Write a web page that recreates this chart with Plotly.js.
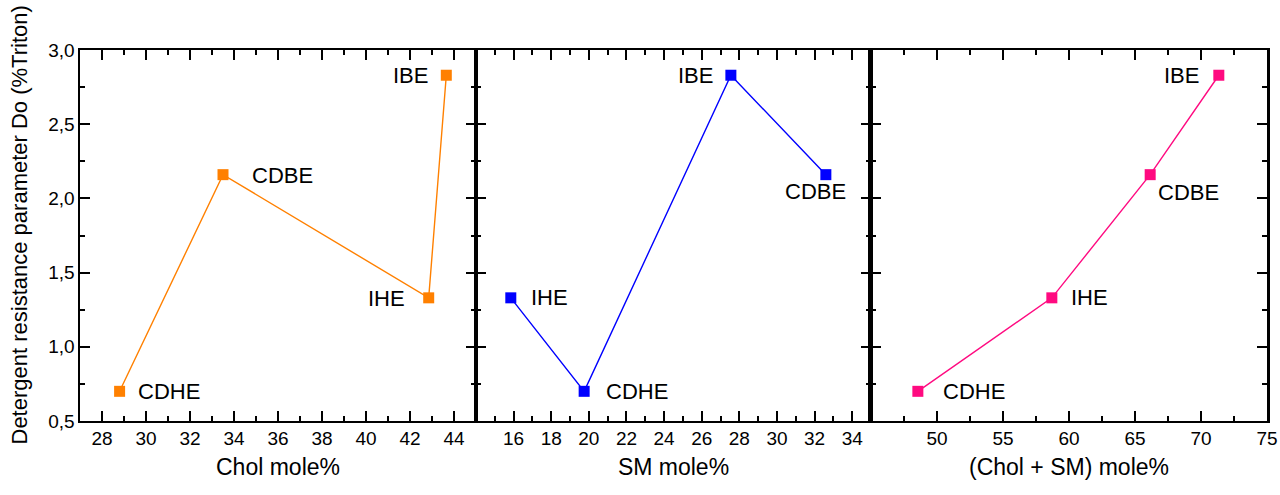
<!DOCTYPE html>
<html>
<head>
<meta charset="utf-8">
<script src="https://cdn.plot.ly/plotly-3.0.1.min.js"></script>
<style>html,body{margin:0;padding:0;background:#fff;}#chart{width:1280px;height:495px;}</style>
</head>
<body>
<div id="chart"></div>
<script>
// ---- data ----
const labels = ["CDHE", "CDBE", "IHE", "IBE"];
const doValues = [0.70, 2.16, 1.33, 2.83];
const cholMole = [28.8, 33.5, 42.85, 43.65];
const smMole = [19.75, 32.6, 15.85, 27.55];
const cholSmMole = [48.55, 66.15, 58.7, 71.35];
// plotting order of lines (sorted by x)
const orderChol = [0, 1, 2, 3];
const orderSM = [2, 0, 3, 1];
const orderSum = [0, 2, 1, 3];

const xTitles = ["Chol mole%", "SM mole%", "(Chol + SM) mole%"];
const yTitle = "Detergent resistance parameter Do (%Triton)";
const xTicks1 = [28, 30, 32, 34, 36, 38, 40, 42, 44];
const xTicks2 = [16, 18, 20, 22, 24, 26, 28, 30, 32, 34];
const xTicks3 = [50, 55, 60, 65, 70, 75];
const yTicks = [0.5, 1.0, 1.5, 2.0, 2.5, 3.0];

// ---- styles ----
const colors = ["#FF8000", "#0000FF", "#FF0A80"];
const FONT = "Liberation Sans, Arial, Helvetica, sans-serif";
const TICK = "#000";
// label placement per panel (same order as labels): [xanchor, xshift, yshift]
const labelPos = [
  [["left", 16, 0], ["left", 27, -1], ["right", -22, -1], ["right", -16, 0]],
  [["left", 20, 0], ["center", -10, -17], ["left", 18, 0], ["right", -16, 0]],
  [["left", 23, 0], ["left", 6, -18], ["left", 17, 0], ["right", -18, 0]]
];

const xs = [cholMole, smMole, cholSmMole];
const orders = [orderChol, orderSM, orderSum];
const axisSuffix = ["", "2", "3"];

const traces = xs.map((xv, p) => ({
  type: "scatter",
  mode: "lines+markers",
  x: orders[p].map(i => xv[i]),
  y: orders[p].map(i => doValues[i]),
  xaxis: "x" + axisSuffix[p],
  yaxis: "y" + axisSuffix[p],
  line: {color: colors[p], width: 1.4},
  marker: {symbol: "square", size: 11, color: colors[p]},
  hoverinfo: "skip",
  showlegend: false
}));

const annotations = [];
xs.forEach((xv, p) => {
  labels.forEach((lab, i) => {
    const pos = labelPos[p][i];
    annotations.push({
      x: xv[i], y: doValues[i],
      xref: "x" + axisSuffix[p], yref: "y" + axisSuffix[p],
      text: lab, showarrow: false,
      xanchor: pos[0], yanchor: "middle",
      xshift: pos[1], yshift: pos[2],
      font: {family: FONT, size: 22, color: "#000"}
    });
  });
});
annotations.push({
  xref: "paper", yref: "paper", x: 0, y: 0.5,
  xanchor: "center", yanchor: "middle", xshift: -61, yshift: 10,
  textangle: -90, text: yTitle, showarrow: false,
  font: {family: FONT, size: 22, color: "#000"}
});

const d1 = 396 / 1187, d2 = 791 / 1187;
function xAxis(domain, range, ticks, minorDtick, minorTick0, title, anchor) {
  return {
    domain: domain, range: range, anchor: anchor,
    tickmode: "array", tickvals: ticks, ticks: "inside", ticklen: 10, tickwidth: 2,
    tickcolor: TICK,
    minor: {ticks: "inside", ticklen: 5, tickwidth: 2, dtick: minorDtick, tick0: minorTick0, tickcolor: TICK},
    showline: true, linecolor: "#000", linewidth: 1.6, mirror: "ticks",
    showgrid: false, zeroline: false,
    tickfont: {family: FONT, size: 19, color: "#000"},
    title: {text: title, font: {family: FONT, size: 23, color: "#000"}, standoff: 10},
    fixedrange: true
  };
}
function yAxis(anchor, showLabels, lw) {
  return {
    anchor: anchor, range: [0.5, 3.0], domain: [0, 1],
    tickmode: "array", tickvals: yTicks, tickformat: ".1f",
    ticks: "inside", ticklen: 10, tickwidth: 2, tickcolor: TICK,
    minor: {ticks: "inside", ticklen: 5, tickwidth: 2, dtick: 0.25, tick0: 0.5, tickcolor: TICK},
    showline: true, linecolor: "#000", linewidth: lw, mirror: "ticks",
    showgrid: false, zeroline: false, showticklabels: showLabels,
    tickfont: {family: FONT, size: 19, color: "#000"},
    fixedrange: true
  };
}

const layout = {
  width: 1280, height: 495,
  margin: {l: 80, r: 13, t: 50, b: 74},
  paper_bgcolor: "#fff", plot_bgcolor: "#fff",
  separators: ",.",
  font: {family: FONT, color: "#000"},
  xaxis: xAxis([0, d1], [27, 45], xTicks1, 1, 27, xTitles[0], "y"),
  xaxis2: xAxis([d1, d2], [14, 35], xTicks2, 1, 14, xTitles[1], "y2"),
  xaxis3: xAxis([d2, 1], [45, 75], xTicks3, 2.5, 45, xTitles[2], "y3"),
  yaxis: yAxis("x", true, 1.6),
  yaxis2: Object.assign(yAxis("x2", false, 1.6), {matches: "y"}),
  yaxis3: Object.assign(yAxis("x3", false, 3), {matches: "y"}),
  annotations: annotations
};

Plotly.newPlot("chart", traces, layout, {staticPlot: true, displayModeBar: false});
</script>
</body>
</html>
